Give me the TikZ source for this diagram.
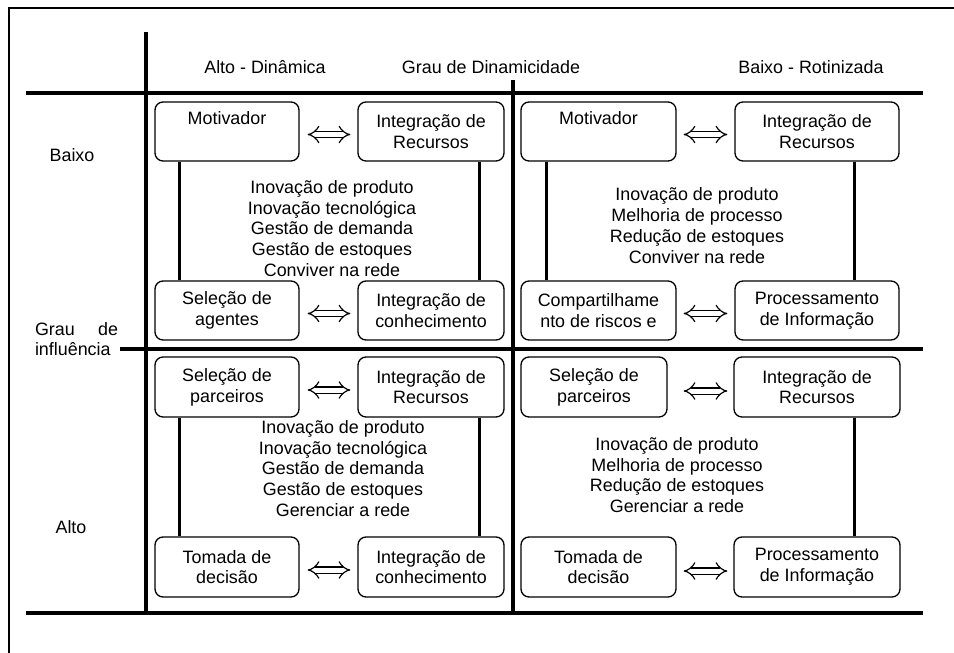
\documentclass[tikz,border=0pt]{standalone}
\usepackage{fontspec}
\setmainfont{Liberation Sans}
\usetikzlibrary{arrows.meta}

\newcommand{\txtfont}{\fontsize{17.9}{20.8}\selectfont}

\begin{document}
\begin{tikzpicture}[x=1pt,y=-1pt,
    blk/.style={draw, line width=1.3pt, rounded corners=8pt, minimum height=59pt, inner sep=0pt, align=center, font=\txtfont},
    lbl/.style={inner sep=0pt, align=center, font=\txtfont},
    axis/.style={line width=4pt},
    link/.style={line width=3.5pt},
    twoway/.style={double, double distance=5pt, line width=1.2pt, {Implies}-{Implies}}]
    \useasboundingbox (0,0) rectangle (954,653);

    % frame and axes
    \draw[line width=2.5pt] (9,653) -- (9,8) -- (954,8);
    \draw[axis] (146,32) -- (146,613);
    \draw[axis] (513,80) -- (513,613);
    \draw[axis] (26,93) -- (923,93);
    \draw[axis] (120,349) -- (923,349);
    \draw[axis] (26,613) -- (923,613);

    \node[lbl] (altod) at (265,67) {Alto - Dinâmica};
    \node[lbl] (grau) at (491,67) {Grau de Dinamicidade};
    \node[lbl] (baixor) at (811,67) {Baixo - Rotinizada};
    \node[lbl] (baixo) at (72,155) {Baixo};
    \node[lbl, text width=83pt, align=left] (infl) at (76.5,339) {Grau\hfill de\\influência};
    \node[lbl] (alto) at (71,527) {Alto};

    % Baixo / Alto - Dinamica
    \node[blk, minimum width=144pt] (tla) at (227,131.5) {Motivador\\\strut};
    \node[blk, minimum width=146pt] (tlb) at (431,131.5) {Integração de\\Recursos};
    \node[blk, minimum width=144pt] (tlc) at (227,310.5) {Seleção de\\agentes};
    \node[blk, minimum width=146pt] (tld) at (431,310.5) {Integração de\\conhecimento};
    \node[lbl] (tlt) at (332,228.5) {Inovação de produto\\Inovação tecnológica\\Gestão de demanda\\Gestão de estoques\\Conviver na rede};
    \draw[link] ([xshift=25pt]tla.south west) -- ([xshift=25pt]tlc.north west);
    \draw[link] ([xshift=-25pt]tlb.south east) -- ([xshift=-25pt]tld.north east);
    \draw[twoway, shorten <=8pt, shorten >=7pt] ([yshift=-3pt]tla.east) -- ([yshift=-3pt]tlb.west);
    \draw[twoway, shorten <=8pt, shorten >=7pt] ([yshift=-3pt]tlc.east) -- ([yshift=-3pt]tld.west);

    % Baixo / Baixo - Rotinizada
    \node[blk, minimum width=155pt] (tra) at (598.5,131.5) {Motivador\\\strut};
    \node[blk, minimum width=164pt] (trb) at (817,131.5) {Integração de\\Recursos};
    \node[blk, minimum width=155pt] (trc) at (598.5,310.5) {Compartilhame\\nto de riscos e};
    \node[blk, minimum width=164pt] (trd) at (817,310.5) {Processamento\\de Informação};
    \node[lbl] (trt) at (697,225.5) {Inovação de produto\\Melhoria de processo\\Redução de estoques\\Conviver na rede};
    \draw[link] ([xshift=26pt]tra.south west) -- ([xshift=26pt]trc.north west);
    \draw[link] ([xshift=-45pt]trb.south east) -- ([xshift=-45pt]trd.north east);
    \draw[twoway, shorten <=7pt, shorten >=7pt] ([yshift=-3pt]tra.east) -- ([yshift=-3pt]trb.west);
    \draw[twoway, shorten <=7pt, shorten >=7pt] ([yshift=-3pt]trc.east) -- ([yshift=-3pt]trd.west);

    % Alto / Alto - Dinamica
    \node[blk, minimum width=144pt, minimum height=60pt] (bla) at (227,387) {Seleção de\\parceiros};
    \node[blk, minimum width=146pt, minimum height=60pt] (blb) at (431,387) {Integração de\\Recursos};
    \node[blk, minimum width=144pt, minimum height=60pt] (blc) at (227,567) {Tomada de\\decisão};
    \node[blk, minimum width=146pt, minimum height=60pt] (bld) at (431,567) {Integração de\\conhecimento};
    \node[lbl] (blt) at (343,468.5) {Inovação de produto\\Inovação tecnológica\\Gestão de demanda\\Gestão de estoques\\Gerenciar a rede};
    \draw[link] ([xshift=25pt]bla.south west) -- ([xshift=25pt]blc.north west);
    \draw[link] ([xshift=-25pt]blb.south east) -- ([xshift=-25pt]bld.north east);
    \draw[twoway, shorten <=8pt, shorten >=7pt] ([yshift=-3pt]bla.east) -- ([yshift=-3pt]blb.west);
    \draw[twoway, shorten <=8pt, shorten >=7pt] ([yshift=-3pt]blc.east) -- ([yshift=-3pt]bld.west);

    % Alto / Baixo - Rotinizada
    \node[blk, minimum width=146pt, minimum height=60pt] (bra) at (594,387) {Seleção de\\parceiros};
    \node[blk, minimum width=166pt, minimum height=60pt] (brb) at (817,387) {Integração de\\Recursos};
    \node[blk, minimum width=155pt, minimum height=60pt] (brc) at (598.5,567) {Tomada de\\decisão};
    \node[blk, minimum width=166pt, minimum height=60pt] (brd) at (817,567) {Processamento\\de Informação};
    \node[lbl] (brt) at (677,475) {Inovação de produto\\Melhoria de processo\\Redução de estoques\\Gerenciar a rede};
    \draw[link] ([xshift=-46pt]brb.south east) -- ([xshift=-46pt]brd.north east);
    \draw[twoway, shorten <=16pt, shorten >=6pt] ([yshift=-4pt]bra.east) -- ([yshift=-4pt]brb.west);
    \draw[twoway, shorten <=7pt, shorten >=6pt] ([yshift=-4pt]brc.east) -- ([yshift=-4pt]brd.west);
\end{tikzpicture}
\end{document}
